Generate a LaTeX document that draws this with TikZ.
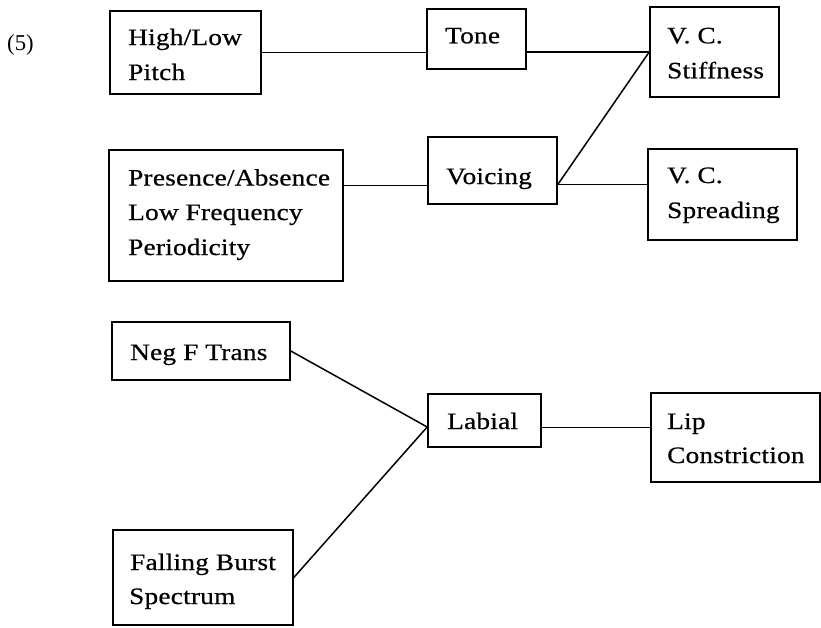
\documentclass[tikz,border=0pt]{standalone}
\usepackage{fontspec}
\setmainfont{Liberation Serif}
\newfontfamily\boxfont{Liberation Serif}[FakeStretch=1.16, LetterSpace=1, FakeBold=0.6]
\begin{document}
\begin{tikzpicture}[x=1pt,y=-1pt,
  tx/.style={anchor=base west, inner sep=0pt, font=\boxfont\fontsize{23.5}{35}\selectfont},
  bx/.style={draw, line width=1.6pt, inner sep=0pt, anchor=center},
  ln/.style={line width=1.5pt}]
\useasboundingbox (0,0) rectangle (821,627);
% boxes
\node[bx, minimum width=151pt, minimum height=83pt] (hl) at (185.5,52.5) {};
\node[bx, minimum width=99pt, minimum height=60pt] (tone) at (476.5,39) {};
\node[bx, minimum width=129pt, minimum height=90pt] (stiff) at (714.5,52) {};
\node[bx, minimum width=234pt, minimum height=131pt] (pres) at (226,215.5) {};
\node[bx, minimum width=129pt, minimum height=67pt] (voic) at (492.5,170.5) {};
\node[bx, minimum width=149pt, minimum height=91pt] (spread) at (722.5,194.5) {};
\node[bx, minimum width=178pt, minimum height=58pt] (neg) at (201,351) {};
\node[bx, minimum width=180pt, minimum height=95pt] (fall) at (203,577.5) {};
\node[bx, minimum width=113pt, minimum height=53pt] (lab) at (484.5,420.5) {};
\node[bx, minimum width=169pt, minimum height=89pt] (lip) at (735.5,437.5) {};
% texts
\node[anchor=base west, inner sep=0pt, font=\rmfamily\fontsize{22.7}{35}\selectfont] (num) at (7,50) {(5)};
\node[tx] (hl1) at (128,45) {High/Low};
\node[tx] (hl2) at (128,80) {Pitch};
\node[tx] (tone1) at (445,43.3) {Tone};
\node[tx] (stiff1) at (667,43.3) {V. C.};
\node[tx] (stiff2) at (667,78.3) {Stiffness};
\node[tx] (pres1) at (128,185.5) {Presence/Absence};
\node[tx] (pres2) at (128,220) {Low Frequency};
\node[tx] (pres3) at (128,255) {Periodicity};
\node[tx] (voic1) at (446,184) {Voicing};
\node[tx] (spread1) at (667,183) {V. C.};
\node[tx] (spread2) at (667,218) {Spreading};
\node[tx] (neg1) at (130,360) {Neg F Trans};
\node[tx] (fall1) at (130,570) {Falling Burst};
\node[tx] (fall2) at (129,604) {Spectrum};
\node[tx] (lab1) at (447,429) {Labial};
\node[tx] (lip1) at (667,429) {Lip};
\node[tx] (lip2) at (667,463) {Constriction};
% connectors
\coordinate (vin) at ([yshift=-15pt]voic.west);
\coordinate (vout) at ([yshift=-14pt]voic.east);
\coordinate (lin) at ([yshift=-6.5pt]lab.west);
\coordinate (lout) at ([yshift=-7pt]lab.east);
\draw[ln] (hl.east) -- (hl.east -| tone.west);
\draw[ln] (tone.east |- stiff.west) -- (stiff.west);
\draw[ln] (vin -| pres.east) -- (vin);
\draw[ln] (vout) -- (vout -| spread.west);
\draw[ln] (vout) -- (stiff.west);
\draw[ln] (neg.east) -- (lin);
\draw[ln] (fall.east) -- (lin);
\draw[ln] (lout) -- (lout -| lip.west);
\end{tikzpicture}
\end{document}
